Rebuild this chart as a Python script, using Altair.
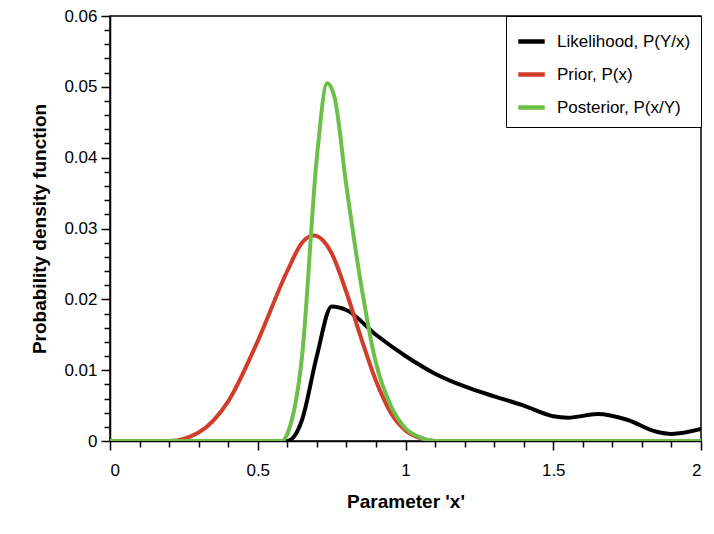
import altair as alt
import pandas as pd

x_prior = [0, 0.2, 0.3, 0.4, 0.5, 0.6, 0.65, 0.69, 0.75, 0.8, 0.85, 0.9, 0.95, 1.0, 1.05, 1.1, 1.2, 2.0]
y_prior = [0, 0, 0.0012, 0.0056, 0.0141, 0.024, 0.028, 0.029, 0.0265, 0.021, 0.0145, 0.0085, 0.004, 0.0015, 0.0004, 0, 0, 0]
x_post = [0, 0.55, 0.58, 0.6, 0.65, 0.7, 0.735, 0.76, 0.8, 0.85, 0.9, 0.95, 1.0, 1.05, 1.1, 1.2, 2.0]
y_post = [0, 0, 0, 0.001, 0.012, 0.040, 0.0505, 0.0485, 0.036, 0.022, 0.011, 0.005, 0.0018, 0.0005, 0, 0, 0]
x_like = [0, 0.55, 0.6, 0.65, 0.7, 0.75, 0.8, 0.9, 1.0, 1.1, 1.2, 1.3, 1.4, 1.5, 1.55, 1.65, 1.75, 1.85, 1.9, 2.0]
y_like = [0, 0, 0, 0.003, 0.012, 0.019, 0.0185, 0.015, 0.012, 0.0095, 0.0077, 0.0063, 0.005, 0.0035, 0.0033, 0.0038, 0.003, 0.0013, 0.001, 0.0017]

names = ["Likelihood, P(Y/x)", "Prior, P(x)", "Posterior, P(x/Y)"]
rows = []
for n, xs, ys in [(names[0], x_like, y_like), (names[1], x_prior, y_prior), (names[2], x_post, y_post)]:
    rows += [{"s": n, "x": a, "y": b} for a, b in zip(xs, ys)]
df = pd.DataFrame(rows)

xticks = [round(i * 0.1, 1) for i in range(21)]
yticks = [round(i * 0.002, 3) for i in range(31)]

chart = alt.Chart(df).mark_line(strokeWidth=4, interpolate="monotone", clip=True).encode(
    x=alt.X("x:Q", scale=alt.Scale(domain=[0, 2], nice=False), title="Parameter 'x'",
            axis=alt.Axis(values=xticks, grid=False, format="~g",
                          labelExpr="abs(datum.value*2-round(datum.value*2))<1e-6 ? datum.label : ''",
                          tickSize={"condition": {"test": "abs(datum.value*2-round(datum.value*2))<1e-6", "value": 9}, "value": 6},
                          labelPadding=12, titlePadding=14)),
    y=alt.Y("y:Q", scale=alt.Scale(domain=[0, 0.06], nice=False), title="Probability density function",
            axis=alt.Axis(values=yticks, grid=False, format="~g",
                          labelExpr="abs(datum.value*100-round(datum.value*100))<1e-6 ? datum.label : ''",
                          tickSize={"condition": {"test": "abs(datum.value*100-round(datum.value*100))<1e-6", "value": 9}, "value": 6},
                          labelPadding=4, titlePadding=14)),
    color=alt.Color("s:N", sort=names, scale=alt.Scale(domain=names, range=["#000000", "#d23c2a", "#6cc04a"]),
                    legend=alt.Legend(title=None, orient="top-right", offset=0, strokeColor="black", fillColor="white",
                                      padding=10, symbolType="stroke", symbolStrokeWidth=4.5, symbolSize=700,
                                      labelFontSize=17, rowPadding=8, labelLimit=300, labelOffset=10)),
).properties(
    width=591, height=425,
    autosize=alt.AutoSizeParams(type="none"),
    padding={"left": 102, "top": 8, "right": 5, "bottom": 90},
).configure_view(stroke="black", strokeWidth=1.5).configure_axis(
    labelFont="Liberation Sans", titleFont="Liberation Sans", labelFontSize=17, titleFontSize=19,
    titleFontWeight="bold", domainColor="black", tickColor="black", labelColor="black", domainWidth=1.5, tickWidth=1.5
).configure_legend(labelFont="Liberation Sans")

chart.save("out.html", embed_options={"renderer": "svg", "actions": False})
